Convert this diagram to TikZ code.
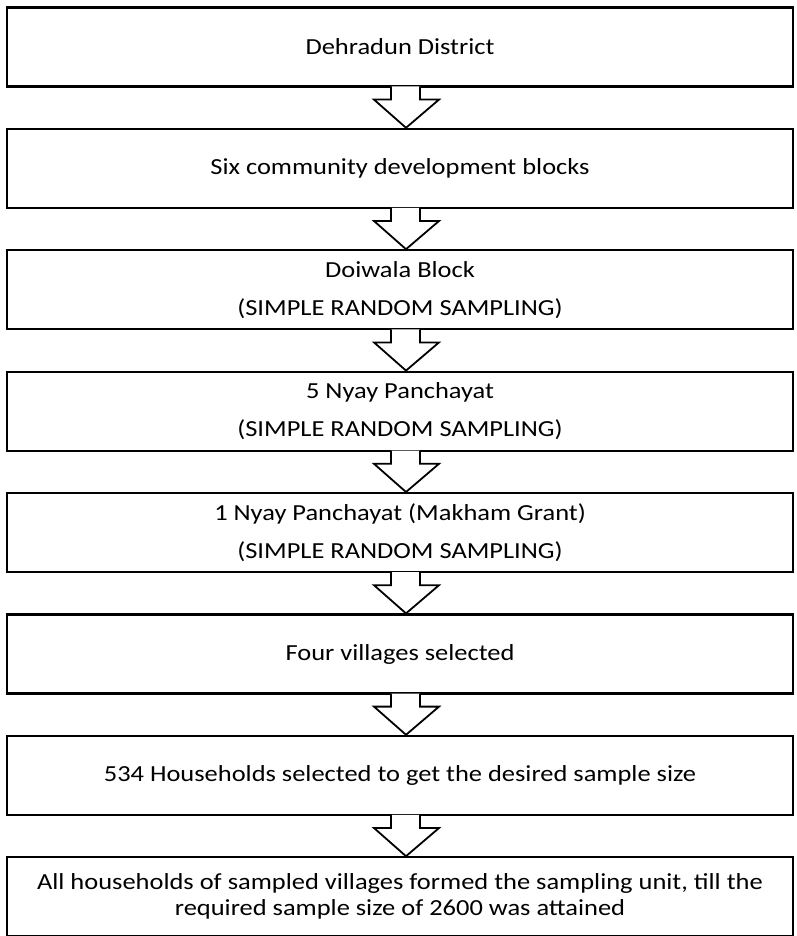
\documentclass[tikz,border=0pt]{standalone}
\usepackage{fontspec}
\setmainfont{Carlito}[FakeStretch=1.15]
\usetikzlibrary{positioning,calc}

\begin{document}
\begin{tikzpicture}[x=1pt, y=-1pt,
    stage/.style={draw, line width=2.2pt, minimum width=786pt, minimum height=79pt,
        inner sep=0pt, align=center, font=\fontsize{23}{26}\selectfont},
    blockarrow/.style={draw, fill=white, line width=1.8pt, line join=miter},
    node distance=40.2pt]
                \useasboundingbox (0,0) rectangle (796,936);

                \node [stage] (district) at (400,47) {Dehradun District};
                \node [stage, below=of district] (blocks) {Six community development blocks};
                \node [stage, below=of blocks] (doiwala) {Doiwala Block\\[12pt](SIMPLE RANDOM SAMPLING)};
                \node [stage, below=of doiwala] (nyay) {5 Nyay Panchayat\\[12pt](SIMPLE RANDOM SAMPLING)};
                \node [stage, below=of nyay] (makham) {1 Nyay Panchayat (Makham Grant)\\[12pt](SIMPLE RANDOM SAMPLING)};
                \node [stage, below=of makham] (villages) {Four villages selected};
                \node [stage, below=of villages] (households) {534 Households selected to get the desired sample size};
                \node [stage, below=of households] (unit) {All households of sampled villages formed the sampling unit, till the\\required sample size of 2600 was attained};

                % hollow arrows between the stages
                \foreach \a/\b in {district/blocks, blocks/doiwala, doiwala/nyay, nyay/makham,
                                   makham/villages, villages/households, households/unit}
                    \path [blockarrow] ($(\a.south)+(-9,-1.1)$) -- ++(0,13.1) -- ++(-17,0)
                        -- ($(\b.north)+(6,0)$) -- ($(\a.south)+(39,12)$) -- ++(-19,0) -- ++(0,-13.1);
            \end{tikzpicture}
\end{document}
